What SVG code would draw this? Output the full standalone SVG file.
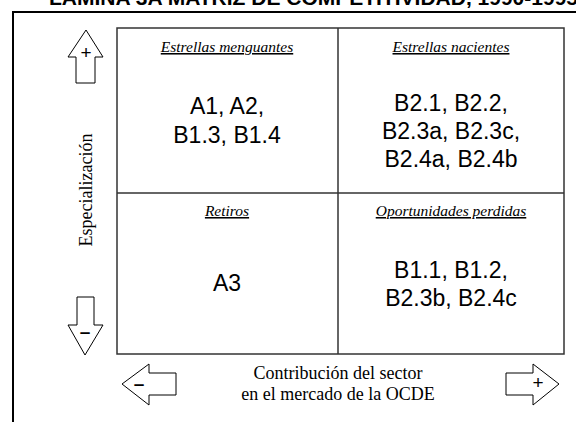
<svg xmlns="http://www.w3.org/2000/svg" width="576" height="422" viewBox="0 0 576 422">
<style>
.frame{fill:none;stroke:#000;stroke-width:2}
.grid{fill:none;stroke:#333;stroke-width:1.5}
.arrow{fill:#fff;stroke:#000;stroke-width:1}
.hdr{font-family:"Liberation Serif",serif;font-style:italic;font-size:15.5px;text-decoration:underline;text-anchor:middle;fill:#000}
.body{font-family:"Liberation Sans",Arial,sans-serif;font-size:23px;text-anchor:middle;fill:#000}
.axis{font-family:"Liberation Serif",serif;font-size:18px;text-anchor:middle;fill:#000}
.sign{font-family:"Liberation Sans",Arial,sans-serif;font-size:19px;text-anchor:middle;fill:#000}
.title{font-family:"Liberation Sans",Arial,sans-serif;font-size:21px;font-weight:bold;fill:#000}
</style>
<rect width="576" height="422" fill="#fff"/>
<text class="title" x="578" y="5" text-anchor="end">LÁMINA 3A MATRIZ DE COMPETITIVIDAD, 1990-1995</text>
<rect class="frame" x="13" y="12" width="620" height="480"/>
<g id="connectors">
<rect class="grid" x="117" y="28" width="447" height="326"/>
<line class="grid" x1="338" y1="28" x2="338" y2="354"/>
<line class="grid" x1="117" y1="193" x2="564" y2="193"/>
</g>
<g id="q-tl">
<text class="hdr" x="227" y="52">Estrellas menguantes</text>
<text class="body" x="227" y="114">A1, A2,</text>
<text class="body" x="227" y="143">B1.3, B1.4</text>
</g>
<g id="q-tr">
<text class="hdr" x="451" y="52">Estrellas nacientes</text>
<text class="body" x="451" y="111">B2.1, B2.2,</text>
<text class="body" x="451" y="139">B2.3a, B2.3c,</text>
<text class="body" x="451" y="167">B2.4a, B2.4b</text>
</g>
<g id="q-bl">
<text class="hdr" x="227" y="216">Retiros</text>
<text class="body" x="227" y="291">A3</text>
</g>
<g id="q-br">
<text class="hdr" x="451" y="216">Oportunidades perdidas</text>
<text class="body" x="451" y="278">B1.1, B1.2,</text>
<text class="body" x="451" y="306">B2.3b, B2.4c</text>
</g>
<g id="axis-y">
<polygon class="arrow" points="86,30 103,57 95,57 95,83 76,83 76,57 68,57"/>
<text class="sign" x="86" y="59">+</text>
<text class="axis" transform="translate(92,190) rotate(-90)">Especialización</text>
<polygon class="arrow" points="77,297 94,297 94,325 103,325 85,355 68,325 77,325"/>
<text class="sign" x="85" y="338" font-weight="bold">–</text>
</g>
<g id="axis-x">
<polygon class="arrow" points="122,384 149,364 149,373 176,373 176,395 149,395 149,405"/>
<text class="sign" x="139" y="390" font-weight="bold">–</text>
<text class="axis" x="338" y="379">Contribución del sector</text>
<text class="axis" x="338" y="400">en el mercado de la OCDE</text>
<polygon class="arrow" points="506,373 533,373 533,364 559,384 533,405 533,395 506,395"/>
<text class="sign" x="538" y="389">+</text>
</g>
</svg>
